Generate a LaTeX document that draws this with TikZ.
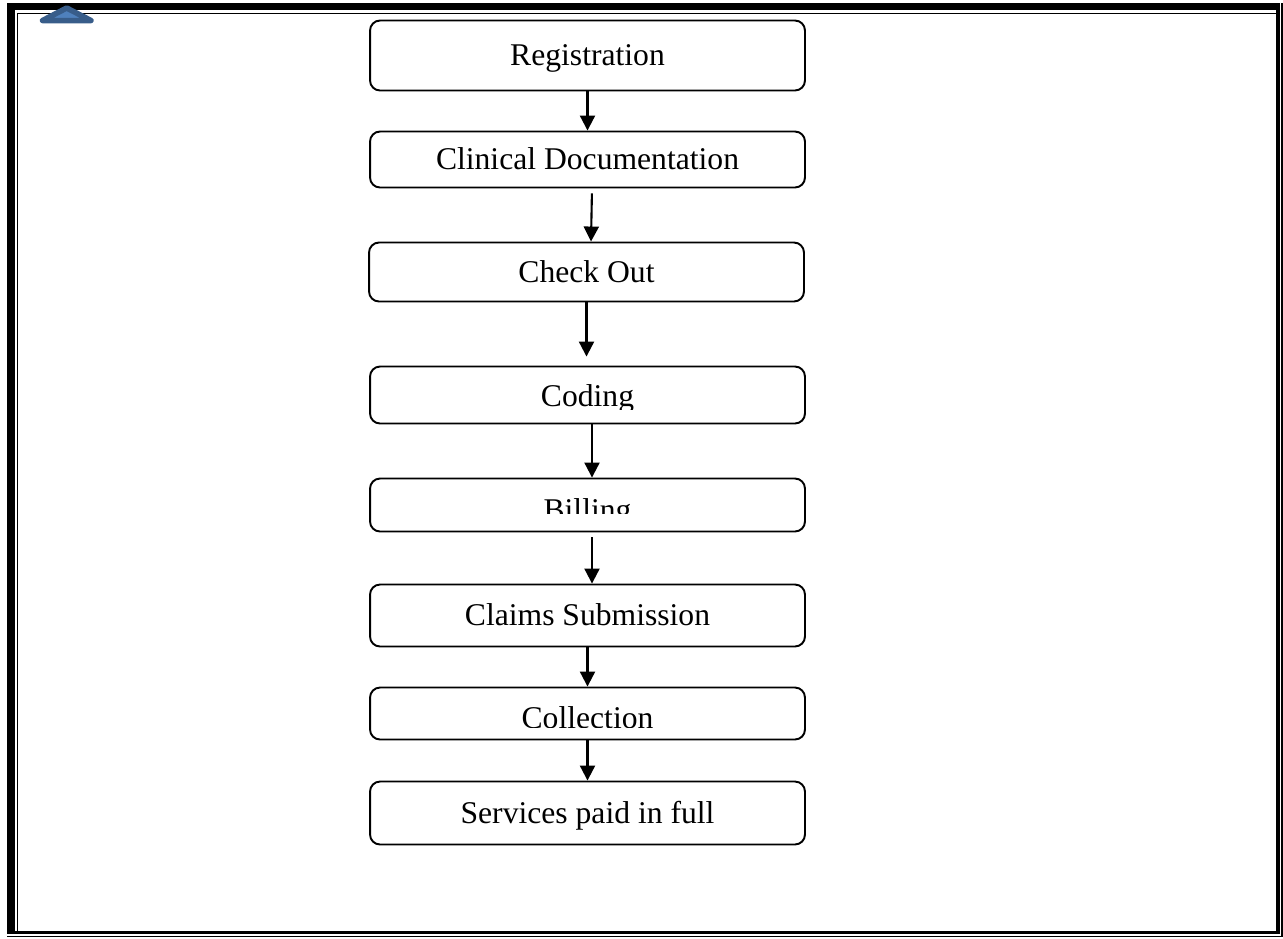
\documentclass[tikz,border=0pt]{standalone}
\usepackage{fontspec}
\setmainfont{Liberation Serif}
\usepackage{tikz}
\usetikzlibrary{arrows.meta, positioning, calc}
\definecolor{tabc}{HTML}{4F81BD}
\definecolor{tabl}{HTML}{385D8A}

\begin{document}
\begin{tikzpicture}[x=0.02cm, y=-0.02cm,
    stage/.style={draw, rounded corners=0.2cm, line width=1.1pt,
      minimum width=8.7cm, inner sep=0pt, text height=0.5cm, text depth=0.09cm,
      font=\fontsize{18pt}{21pt}\selectfont},
    stagetext/.style={inner sep=0pt, anchor=base, font=\fontsize{18pt}{21pt}\selectfont},
    flow/.style={-{Triangle[length=0.3cm, width=0.3cm]}, line width=1.2pt}]
    \useasboundingbox (0,0) rectangle (1283,938);
    % page border
    \fill (7,3) rectangle (1280,10);
    \fill (7,3) rectangle (15,934);
    \fill (1276,3) rectangle (1280,934);
    \fill (7,931) rectangle (1280,934);
    \draw[line width=0.03cm] (17.5,931) |- (1276,13.5);
    \draw[line width=0.03cm] (7,936.5) -| (1282,3);
    % tab shape
    \draw[tabl, fill=tabc, line width=0.11cm, line join=round]
      (42.5,20.5) -- (66.7,8) -- (91,20.5) -- cycle;
    % stages
    \node[stage, minimum height=1.4cm] (reg) at (587.5,55.5) {Registration};
    \node[stage, minimum height=1.12cm] (clin) at (587.5,159.5) {Clinical Documentation};
    \node[stage, minimum height=1.18cm] (check) at (586.5,272) {Check Out};
    \node[stage, minimum height=1.14cm] (coding) at (587.5,395) {};
    \node[stage, minimum height=1.06cm] (billing) at (587.5,505) {};
    \node[stage, minimum height=1.24cm] (claims) at (587.5,615.5) {Claims Submission};
    \node[stage, minimum height=1.04cm] (collect) at (587.5,713.5) {};
    \node[stage, minimum height=1.26cm] (paid) at (587.5,813) {Services paid in full};
    % cut-off labels
    \begin{scope}
      \clip (coding.north west) rectangle ([yshift=0.29cm]coding.south east);
      \node[stagetext] (codingtxt) at ([yshift=-0.22cm]coding.center) {Coding};
    \end{scope}
    \begin{scope}
      \clip (billing.north west) rectangle ([yshift=0.38cm]billing.south east);
      \node[stagetext] (billingtxt) at ([yshift=-0.3cm]billing.center) {Billing};
    \end{scope}
    \begin{scope}
      \clip (collect.north west) rectangle ([yshift=0.26cm]collect.south east);
      \node[stagetext] (collecttxt) at ([yshift=-0.29cm]collect.center) {Collection};
    \end{scope}
    % arrows
    \draw[flow] (reg) -- (clin);
    \draw[flow, shorten <=0.1cm] ([xshift=0.09cm]clin.south) -- ([xshift=0.09cm]check.north);
    \draw[flow, shorten >=0.18cm] (check) -- (coding.north -| check);
    \draw[flow] ([xshift=0.09cm]coding.south) -- ([xshift=0.09cm]billing.north);
    \draw[flow, shorten <=0.1cm] ([xshift=0.09cm]billing.south) -- ([xshift=0.09cm]claims.north);
    \draw[flow] (claims) -- (collect);
    \draw[flow] (collect) -- (paid);
\end{tikzpicture}
\end{document}
